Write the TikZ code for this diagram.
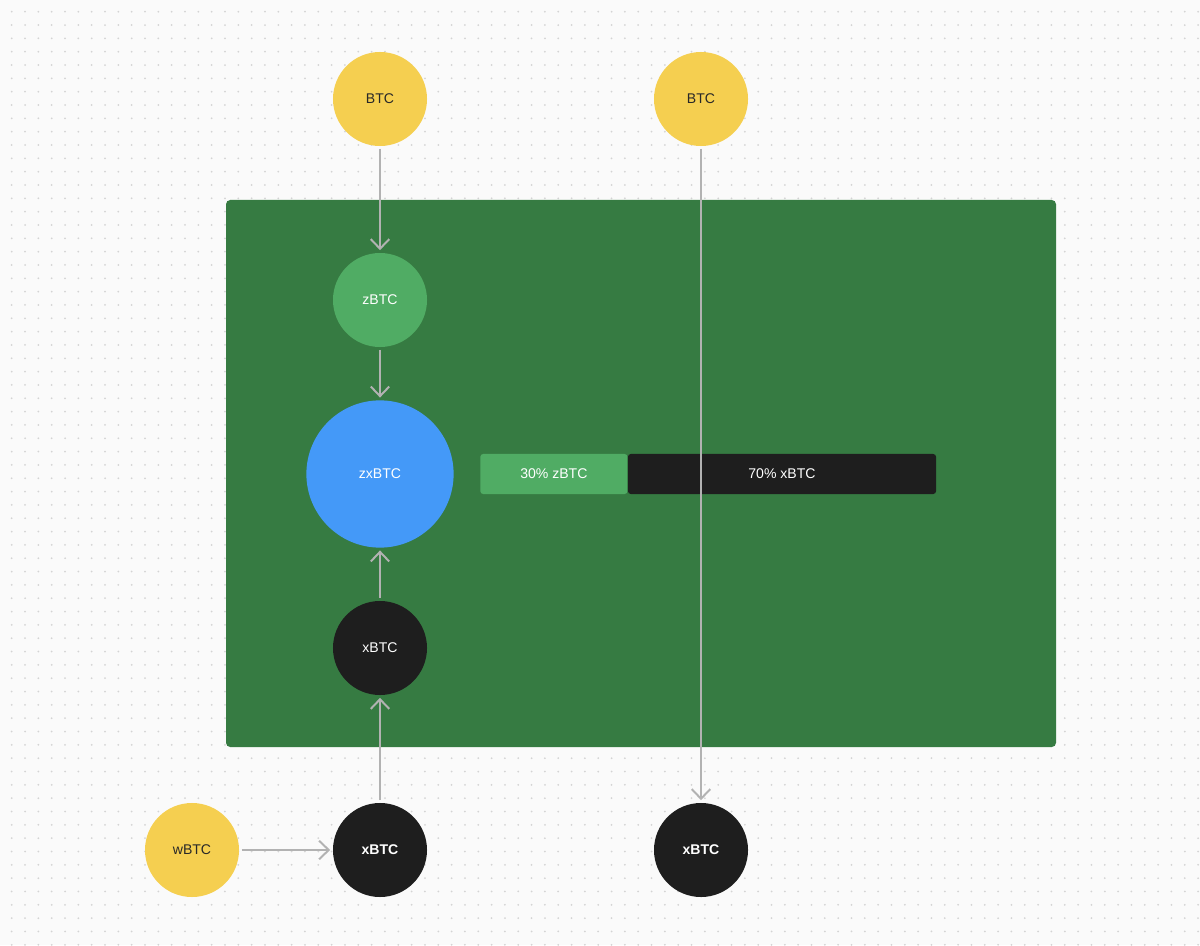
\documentclass[tikz,border=0pt]{standalone}
\usepackage{fontspec}
\setmainfont{Liberation Sans}
\usepackage{tikz}
\usetikzlibrary{arrows.meta, positioning}
\definecolor{paper}{RGB}{250,250,250}
\definecolor{dotgray}{RGB}{212,212,212}
\definecolor{vaultgreen}{RGB}{54,123,66}
\definecolor{coinyellow}{RGB}{245,207,80}
\definecolor{zgreen}{RGB}{80,172,100}
\definecolor{zxblue}{RGB}{68,153,248}
\definecolor{xblack}{RGB}{30,30,30}
\definecolor{wiregray}{RGB}{178,178,178}
\definecolor{inkdark}{RGB}{40,40,40}
\tikzset{
  coin/.style={circle, minimum size=2.35cm, inner sep=0pt,
    font=\fontsize{10}{12}\selectfont, outer sep=2pt},
  btccoin/.style={coin, fill=coinyellow, text=inkdark},
  zcoin/.style={coin, fill=zgreen, text=white},
  xcoin/.style={coin, fill=xblack, text=white},
  zxcoin/.style={coin, fill=zxblue, text=white, minimum size=3.68cm},
  barseg/.style={rectangle, minimum height=1cm, inner sep=0pt,
    rounded corners=2pt, text=white, font=\fontsize{10}{12}\selectfont},
  flow/.style={-{Straight Barb[length=0.24cm, width=0.46cm, line width=1.4pt]},
    line width=1.4pt, color=wiregray}
}

\begin{document}
\begin{tikzpicture}[x=0.025cm, y=-0.025cm]
  % Canvas with dot grid
  \fill[paper] (0,0) rectangle (1200,945);
  \useasboundingbox (0,0) rectangle (1200,945);
  \foreach \i in {0,...,89}{
    \foreach \j in {0,...,70}{
      \fill[dotgray] (11.7+13.33*\i, 11.7+13.33*\j) circle (1);
    }
  }

  % Vault area
  \fill[vaultgreen, rounded corners=3pt] (226,200) rectangle (1056,747);

  % Coins
  \node[btccoin] (btcleft) at (380,99) {BTC};
  \node[btccoin] (btcright) at (701,99) {BTC};
  \node[zcoin] (zbtc) at (380,300) {zBTC};
  \node[zxcoin] (zxbtc) at (380,474) {zxBTC};
  \node[xcoin] (xbtcin) at (380,648) {xBTC};
  \node[btccoin] (wbtc) at (192,850) {wBTC};
  \node[xcoin, font=\fontsize{10}{12}\selectfont\bfseries] (xbtcmid) at (380,850) {xBTC};
  \node[xcoin, font=\fontsize{10}{12}\selectfont\bfseries] (xbtcright) at (701,850) {xBTC};

  % Share bar
  \node[barseg, fill=xblack, minimum width=7.7cm] (xshare) at (782,474) {70\% xBTC};
  \node[barseg, fill=zgreen, minimum width=3.675cm, left=0pt of xshare.west] (zshare) {30\% zBTC};

  % Flows
  \draw[flow] (btcleft) -- (zbtc);
  \draw[flow] (zbtc) -- (zxbtc);
  \draw[flow] (xbtcin) -- (zxbtc);
  \draw[flow] (xbtcmid) -- (xbtcin);
  \draw[flow] (wbtc) -- (xbtcmid);
  \draw[flow] (btcright) -- (xbtcright);

\end{tikzpicture}
\end{document}
